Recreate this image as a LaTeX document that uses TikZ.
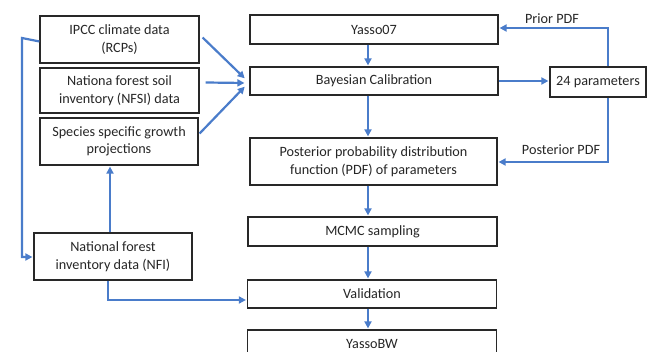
\documentclass[tikz,border=0pt]{standalone}
\usepackage{fontspec}
\setmainfont{Carlito}
\usetikzlibrary{arrows.meta}

\definecolor{flowblue}{RGB}{74,124,202}
\definecolor{boxline}{RGB}{40,40,40}

\tikzset{
    box/.style={draw=boxline, line width=1.2pt, inner sep=0pt, align=center,
        text=black!85, font=\fontsize{14.2}{17.5}\selectfont},
    flow/.style={draw=flowblue, line width=2.2pt,
        -{Triangle[length=7pt,width=7pt]}, shorten >=1pt},
    tag/.style={font=\fontsize{14.2}{17}\selectfont, text=black!85}
}

\begin{document}
\begin{tikzpicture}[x=1pt, y=-1pt]

    % page frame (y runs downwards)
    \useasboundingbox (0,0) rectangle (659,352);
    \clip (0,0) rectangle (659,352);

    % input data on the left
    \node[box, minimum width=159, minimum height=47] (ipcc) at (119.5,39.5)
        {IPCC climate data\\(RCPs)};
    \node[box, minimum width=159, minimum height=45] (nfsi) at (119.5,90.5)
        {Nationa forest soil\\inventory (NFSI) data};
    \node[box, minimum width=158, minimum height=47] (species) at (119,141.5)
        {Species specific growth\\projections};
    \node[box, minimum width=158, minimum height=47] (nfi) at (113,256.5)
        {National forest\\inventory data (NFI)};

    % main chain in the middle
    \node[box, minimum width=248, minimum height=29] (yasso) at (374,29.5) {Yasso07};
    \node[box, minimum width=248, minimum height=28] (bayes) at (374,81) {Bayesian Calibration};
    \node[box, minimum width=247, minimum height=47] (post) at (373.5,161.5)
        {Posterior probability distribution\\function (PDF) of parameters};
    \node[box, minimum width=249, minimum height=29] (mcmc) at (372.5,231.5) {MCMC sampling};
    \node[box, minimum width=249, minimum height=28] (valid) at (372,294) {Validation};
    \node[box, minimum width=249, minimum height=28] (yassobw) at (372,344) {YassoBW};

    % parameter box on the right
    \node[box, minimum width=96, minimum height=30] (params) at (598,82) {24 parameters};

    % corner points for the elbow lines
    \coordinate (priorC) at (608,28);
    \coordinate (postC) at (608,162);
    \coordinate (leftTop) at (22,38);
    \coordinate (leftBot) at (22,257);
    \coordinate (nfiBot) at (108,300);

    % data feeding the calibration
    \draw[flow] ([shift={(3,-2)}]ipcc.east) -- ([shift={(-4,-2)}]bayes.west);
    \draw[flow] ([shift={(6,-8)}]nfsi.east) -- ([shift={(-4,2)}]bayes.west);
    \draw[flow] ([shift={(1,-8)}]species.east) -- ([shift={(-4,5)}]bayes.west);

    % vertical chain
    \draw[flow] ([xshift=-6]yasso.south) -- ([xshift=-6]bayes.north);
    \draw[flow] ([xshift=-6]bayes.south) -- ([xshift=-5.5]post.north);
    \draw[flow] ([xshift=-5.5]post.south) -- ([xshift=-4.5]mcmc.north);
    \draw[flow] ([xshift=-4.5]mcmc.south) -- ([xshift=-4]valid.north);
    \draw[flow] ([xshift=-4]valid.south) -- ([xshift=-4]yassobw.north);

    % calibration to parameters and back
    \draw[flow] (bayes.east) -- (bayes.east -| params.west);
    \draw[flow] (params.north -| priorC) -- (priorC) -- (priorC -| yasso.east);
    \draw[flow] (params.south -| postC) -- (postC) -- (postC -| post.east);
    \node[tag, anchor=base] (priorlbl) at (552,24) {Prior PDF};
    \node[tag, anchor=base] (postlbl) at (561,155) {Posterior PDF};

    % inventory data
    \draw[flow] ([yshift=-2]ipcc.west -| ipcc.west) -- (leftTop) -- (leftBot) -- (leftBot -| nfi.west);
    \draw[flow] ([xshift=-3]nfi.north) -- ([xshift=-9]species.south);
    \draw[flow] (nfi.south -| nfiBot) -- (nfiBot) -- (nfiBot -| valid.west);

\end{tikzpicture}
\end{document}
